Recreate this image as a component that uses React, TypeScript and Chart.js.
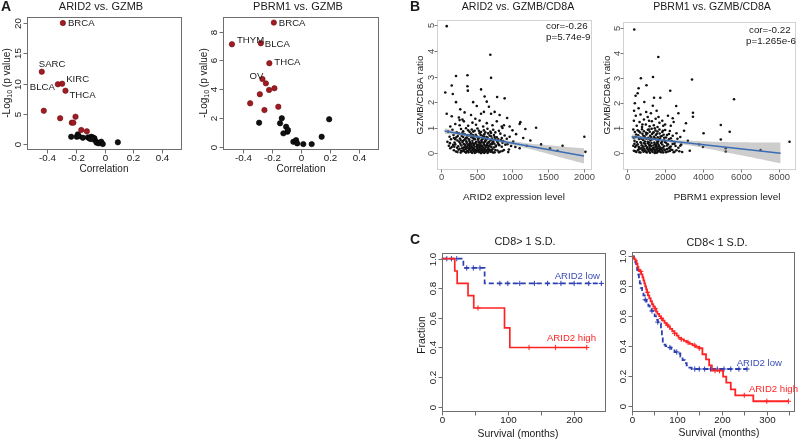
import React, { useEffect, useRef } from 'react';
import { Chart, registerables } from 'chart.js';
Chart.register(...registerables);

const FONT = '"Liberation Sans", Arial, Helvetica, sans-serif';

// ---------- Panel A data ----------
const A_CORR_TICKS = [-0.4, -0.2, 0, 0.2, 0.4];
const A_CORR_LABELS = ['-0.4', '-0.2', '0', '0.2', '0.4'];
const A1_Y_TICKS = [0, 5, 10, 15, 20];
const A2_Y_TICKS = [0, 2, 4, 6, 8];

const A1_RED: [number, number][] = [[-0.29, 20.0], [-0.437, 11.95], [-0.325, 9.87], [-0.295, 9.97], [-0.272, 8.81], [-0.423, 5.5], [-0.309, 4.25], [-0.202, 4.51], [-0.228, 3.53], [-0.217, 3.53], [-0.162, 2.31], [-0.123, 2.1]];
const A1_NAMES = ['BRCA', 'SARC', 'BLCA', 'KIRC', 'THCA'];
const A1_BLACK: [number, number][] = [[-0.232, 1.2], [-0.193, 1.2], [-0.186, 1.6], [-0.179, 1.3], [-0.151, 1.04], [-0.116, 1.1], [-0.105, 0.95], [-0.093, 1.2], [-0.081, 1.1], [-0.07, 0.95], [-0.1, 0.85], [-0.085, 0.8], [-0.058, 0.38], [-0.054, 0.22], [-0.04, 0.11], [-0.023, 0.38], [-0.012, 0.0], [0.093, 0.28]];

const A2_RED: [number, number][] = [[-0.478, 7.12], [-0.278, 7.19], [-0.188, 8.63], [-0.219, 5.8], [-0.267, 4.7], [-0.243, 4.4], [-0.285, 3.64], [-0.221, 3.94], [-0.184, 4.06], [-0.352, 3.01], [-0.253, 2.54], [-0.157, 2.77]];
const A2_NAMES = ['THYM', 'BLCA', 'BRCA', 'THCA', 'OV'];
const A2_BLACK: [number, number][] = [[-0.29, 1.66], [-0.133, 1.97], [-0.145, 1.62], [-0.103, 1.38], [-0.094, 1.03], [-0.122, 0.92], [-0.09, 1.15], [-0.053, 0.33], [-0.034, 0.45], [-0.026, 0.22], [0.016, 0.17], [0.074, 0.17], [0.143, 0.68], [0.195, 1.9]];

// ---------- Panel B data ----------
const B_Y_TICKS = [0, 1, 2, 3, 4, 5];
const B1_X_TICKS = [0, 500, 1000, 1500, 2000];
const B2_X_TICKS = [0, 2000, 4000, 6000, 8000];

const B1_POINTS: [number, number][] = [
  [80, 4.97], [690, 3.85], [700, 2.95], [210, 3.02], [370, 3.05], [370, 2.62], [375, 2.45], [150, 2.65], [60, 2.38], [165, 2.32],
  [560, 2.5], [610, 2.22], [785, 2.2], [890, 2.15], [640, 2.02], [670, 1.82], [750, 1.62], [80, 1.55], [150, 1.45], [270, 1.72],
  [925, 1.38], [1110, 1.22], [1100, 1.15], [1330, 1.0], [1180, 0.95], [2005, 0.65], [1525, 0.2], [1630, 0.1], [2020, 0.06], [210, 2.0],
  [450, 2.0], [500, 1.85], [330, 1.6], [420, 1.5], [560, 1.55], [600, 1.62], [480, 1.35], [260, 1.3], [700, 1.55], [820, 1.5],
  [880, 1.1], [960, 1.05], [1000, 0.9], [1050, 0.75], [1150, 0.6], [1250, 0.5], [1400, 0.35], [1200, 0.3], [1100, 0.2], [950, 0.15], [1700, 0.3],
  [180, 0.12], [230, 0.05], [260, 0.18], [300, 0.08], [320, 0.15], [350, 0.03], [380, 0.1], [400, 0.17], [420, 0.06], [445, 0.12],
  [470, 0.02], [490, 0.09], [510, 0.15], [530, 0.05], [550, 0.11], [570, 0.18], [590, 0.04], [610, 0.08], [630, 0.14], [650, 0.02],
  [670, 0.1], [700, 0.06], [720, 0.16], [750, 0.04], [790, 0.11], [830, 0.07], [880, 0.13], [940, 0.05], [130, 0.2], [610, 0.19],
  [560, 0.01], [460, 0.19], [360, 0.2], [280, 0.1], [690, 0.12],
  [110, 0.3], [150, 0.25], [200, 0.35], [240, 0.28], [270, 0.38], [310, 0.22], [340, 0.33], [370, 0.27], [395, 0.36], [430, 0.24],
  [455, 0.32], [480, 0.39], [500, 0.26], [525, 0.34], [545, 0.22], [575, 0.3], [600, 0.37], [625, 0.25], [645, 0.33], [680, 0.28],
  [710, 0.36], [740, 0.23], [770, 0.31], [800, 0.38], [850, 0.26], [900, 0.34], [980, 0.29], [1040, 0.25], [405, 0.29], [555, 0.27],
  [660, 0.21], [330, 0.25],
  [90, 0.45], [140, 0.55], [190, 0.42], [230, 0.5], [265, 0.58], [300, 0.44], [325, 0.52], [355, 0.47], [385, 0.56], [410, 0.41],
  [440, 0.49], [465, 0.57], [495, 0.45], [520, 0.53], [540, 0.42], [565, 0.5], [590, 0.58], [615, 0.46], [640, 0.55], [665, 0.43],
  [695, 0.51], [730, 0.47], [760, 0.56], [790, 0.44], [840, 0.52], [870, 0.48], [920, 0.57], [1010, 0.46], [450, 0.6], [350, 0.6],
  [120, 0.65], [175, 0.72], [215, 0.63], [250, 0.78], [290, 0.68], [330, 0.75], [360, 0.62], [390, 0.7], [420, 0.77], [455, 0.66],
  [485, 0.73], [515, 0.61], [540, 0.79], [580, 0.69], [605, 0.74], [635, 0.64], [660, 0.78], [700, 0.67], [740, 0.72], [780, 0.63],
  [830, 0.77], [890, 0.7], [960, 0.65],
  [100, 0.85], [160, 0.92], [220, 0.82], [280, 0.95], [310, 0.86], [350, 0.98], [400, 0.84], [430, 0.93], [470, 0.88], [510, 0.97],
  [560, 0.83], [600, 0.9], [650, 0.96], [690, 0.85], [730, 0.92], [810, 0.88], [860, 0.99],
  [130, 1.05], [200, 1.15], [260, 1.1], [320, 1.25], [380, 1.08], [440, 1.2], [490, 1.12], [540, 1.28], [590, 1.05], [640, 1.18],
  [720, 1.1], [780, 1.25], [850, 1.05], [300, 1.32], [250, 1.4],
  [210, 0.07], [245, 0.14], [275, 0.03], [295, 0.2], [315, 0.11], [335, 0.06], [345, 0.17], [365, 0.09], [385, 0.04], [395, 0.13],
  [415, 0.19], [425, 0.1], [435, 0.02], [450, 0.16], [465, 0.08], [475, 0.13], [485, 0.04], [500, 0.19], [515, 0.07], [520, 0.12],
  [535, 0.16], [545, 0.09], [555, 0.03], [565, 0.14], [580, 0.08], [585, 0.15], [595, 0.11], [605, 0.02], [615, 0.13], [620, 0.06],
  [640, 0.09], [655, 0.16], [665, 0.05], [680, 0.15], [710, 0.1], [730, 0.03], [760, 0.13], [810, 0.04], [860, 0.09],
  [225, 0.22], [255, 0.45], [285, 0.31], [305, 0.48], [320, 0.36], [345, 0.24], [360, 0.41], [375, 0.33], [390, 0.22], [400, 0.46],
  [415, 0.35], [425, 0.28], [440, 0.4], [450, 0.21], [460, 0.37], [470, 0.27], [490, 0.43], [505, 0.33], [515, 0.23], [530, 0.45],
  [535, 0.29], [550, 0.38], [560, 0.31], [570, 0.44], [585, 0.24], [595, 0.41], [610, 0.32], [620, 0.48], [630, 0.28], [650, 0.4],
  [660, 0.3], [675, 0.45], [690, 0.35], [705, 0.25], [720, 0.42], [745, 0.38], [765, 0.27], [785, 0.48], [815, 0.32], [860, 0.41],
  [930, 0.36], [170, 0.33], [185, 0.26], [125, 0.4],
  [200, 0.55], [235, 0.68], [275, 0.52], [310, 0.64], [340, 0.56], [370, 0.71], [395, 0.53], [425, 0.63], [445, 0.72], [475, 0.55],
  [500, 0.67], [530, 0.6], [555, 0.72], [575, 0.55], [600, 0.65], [625, 0.52], [650, 0.62], [680, 0.7], [715, 0.58], [750, 0.64],
  [800, 0.55], [850, 0.6], [450, 0.85], [530, 0.88], [620, 0.82], [380, 0.9], [300, 0.8], [700, 0.8], [180, 0.6], [760, 0.82],
];
const B1_FIT: [number, number][] = [[50, 0.875], [2000, -0.1]];
const B1_BAND_UPPER: [number, number][] = [[50, 0.985], [300, 0.82], [600, 0.65], [900, 0.52], [1200, 0.4], [1500, 0.32], [1800, 0.24], [2000, 0.2]];
const B1_BAND_LOWER: [number, number][] = [[50, 0.765], [300, 0.68], [600, 0.55], [900, 0.38], [1200, 0.2], [1500, -0.02], [1800, -0.25], [2000, -0.4]];

const B2_POINTS: [number, number][] = [
  [370, 4.95], [1640, 3.85], [720, 3.0], [1360, 3.05], [3420, 2.95], [1015, 2.72], [600, 2.6], [550, 2.4], [440, 2.3], [1415, 2.22],
  [1745, 2.22], [2270, 2.5], [2585, 1.89], [5640, 2.16], [3470, 1.62], [3470, 1.46], [4940, 1.13], [5410, 0.86], [4940, 0.55], [5200, 0.2],
  [5200, 0.07], [7040, 0.13], [8570, 0.46], [4030, 0.8], [3800, 0.35], [3000, 0.9], [2800, 0.3], [3300, 0.1], [3100, 1.2], [2700, 1.6],
  [900, 2.05], [400, 2.0], [3200, 0.5], [4000, 0.25], [2900, 0.05],
  [350, 0.1], [480, 0.05], [600, 0.15], [700, 0.03], [820, 0.12], [900, 0.18], [1000, 0.06], [1100, 0.14], [1200, 0.02], [1300, 0.1],
  [1400, 0.17], [1500, 0.05], [1600, 0.12], [1700, 0.08], [1800, 0.16], [1900, 0.03], [2000, 0.11], [2150, 0.07], [2300, 0.15], [2450, 0.04],
  [2600, 0.12], [2750, 0.08], [1050, 0.19], [1450, 0.01], [1750, 0.19], [650, 0.2], [1250, 0.16], [2200, 0.2],
  [320, 0.3], [420, 0.25], [550, 0.36], [650, 0.22], [760, 0.32], [860, 0.27], [950, 0.38], [1050, 0.24], [1150, 0.34], [1250, 0.29],
  [1350, 0.21], [1450, 0.37], [1550, 0.26], [1650, 0.33], [1750, 0.23], [1850, 0.35], [1950, 0.28], [2100, 0.31], [2250, 0.25], [2400, 0.37],
  [2550, 0.29], [2700, 0.22], [1100, 0.4], [1600, 0.4],
  [380, 0.5], [500, 0.45], [620, 0.57], [730, 0.42], [840, 0.53], [930, 0.47], [1030, 0.58], [1130, 0.44], [1230, 0.51], [1330, 0.56],
  [1430, 0.43], [1530, 0.55], [1630, 0.48], [1730, 0.59], [1830, 0.46], [1950, 0.52], [2050, 0.42], [2200, 0.56], [2350, 0.49], [2500, 0.45], [2650, 0.58],
  [450, 0.65], [580, 0.72], [700, 0.63], [800, 0.78], [910, 0.68], [1010, 0.75], [1110, 0.62], [1210, 0.7], [1310, 0.77], [1410, 0.66],
  [1510, 0.73], [1610, 0.64], [1710, 0.79], [1820, 0.69], [1920, 0.74], [2050, 0.63], [2200, 0.77], [2400, 0.7],
  [400, 0.85], [550, 0.92], [680, 0.83], [780, 0.96], [880, 0.88], [990, 0.82], [1090, 0.94], [1190, 0.86], [1290, 0.98], [1390, 0.84],
  [1490, 0.91], [1600, 0.87], [1700, 0.95], [1850, 0.85], [2000, 0.93], [2250, 0.89],
  [500, 1.1], [650, 1.25], [780, 1.05], [880, 1.35], [980, 1.15], [1080, 1.45], [1180, 1.08], [1250, 1.6], [1300, 1.28], [1400, 1.12],
  [1500, 1.38], [1600, 1.05], [1700, 1.22], [1850, 1.3], [2000, 1.15], [2150, 1.5], [2300, 1.1], [2450, 1.25], [700, 1.55], [1000, 1.65], [1550, 1.7],
  [420, 0.08], [560, 0.12], [640, 0.04], [760, 0.16], [860, 0.06], [950, 0.11], [1030, 0.03], [1150, 0.08], [1230, 0.13], [1340, 0.05],
  [1380, 0.15], [1470, 0.09], [1540, 0.16], [1560, 0.02], [1640, 0.07], [1720, 0.14], [1780, 0.04], [1860, 0.1], [1960, 0.15], [2050, 0.04],
  [2100, 0.17], [2250, 0.09], [2380, 0.13], [2500, 0.06], [1180, 0.18], [900, 0.1], [1620, 0.2],
  [380, 0.38], [480, 0.31], [600, 0.26], [700, 0.44], [800, 0.23], [880, 0.4], [980, 0.3], [1080, 0.46], [1180, 0.26], [1280, 0.41],
  [1380, 0.31], [1480, 0.24], [1580, 0.44], [1680, 0.29], [1780, 0.41], [1880, 0.22], [1990, 0.45], [2150, 0.36], [2300, 0.27], [2500, 0.38],
  [2850, 0.35], [1200, 0.34], [1520, 0.33],
  [340, 0.62], [470, 0.75], [620, 0.88], [740, 0.58], [850, 0.7], [960, 0.6], [1060, 0.8], [1160, 0.57], [1260, 0.64], [1360, 0.82],
  [1460, 0.6], [1560, 0.78], [1660, 0.55], [1760, 0.67], [1880, 0.9], [2100, 0.73], [2300, 0.6], [2600, 0.8], [2800, 0.65], [1950, 0.62],
  [1150, 0.95], [1450, 1.0],
  [350, 1.3], [450, 1.5], [600, 1.8], [800, 1.15], [1150, 1.3], [1350, 1.9], [1650, 1.45], [1900, 1.1], [2400, 1.4], [320, 0.95], [360, 1.7],
];
const B2_FIT: [number, number][] = [[230, 0.66], [8100, 0.0]];
const B2_BAND_UPPER: [number, number][] = [[230, 0.76], [1000, 0.66], [2000, 0.56], [3000, 0.51], [4000, 0.48], [5000, 0.45], [6000, 0.44], [7000, 0.43], [8100, 0.43]];
const B2_BAND_LOWER: [number, number][] = [[230, 0.56], [1000, 0.54], [2000, 0.46], [3000, 0.35], [4000, 0.22], [5000, 0.07], [6000, -0.08], [7000, -0.23], [8100, -0.41]];

// ---------- Panel C data (Kaplan-Meier steps: [months, fraction]) ----------
const C_Y_TICKS = [0, 0.2, 0.4, 0.6, 0.8, 1.0];
const C_Y_LABELS = ['0', '0.2', '0.4', '0.6', '0.8', '1.0'];
const C1_X_TICKS = [0, 50, 100, 150, 200];
const C1_X_LABELS = ['0', '', '100', '', '200'];
const C2_X_TICKS = [0, 50, 100, 150, 200, 250, 300, 350];
const C2_X_LABELS = ['0', '', '100', '', '200', '', '300', ''];

const C1_HIGH: [number, number][] = [[0, 1], [20, 0.917], [23.6, 0.833], [40, 0.75], [48.6, 0.667], [95, 0.533], [103, 0.4], [219, 0.4]];
const C1_LOW: [number, number][] = [[0, 1], [33, 0.9375], [65, 0.833], [241, 0.833]];
const C1_HIGH_CENSOR = [55, 132, 172, 219];
const C1_LOW_CENSOR = [8, 15, 23, 38, 48, 58, 88, 100, 118, 140, 160, 180, 200, 222, 241];

const C2_HIGH: [number, number][] = [
  [0, 1], [3, 0.99], [6, 0.98], [9, 0.97], [11, 0.95], [13, 0.93], [15, 0.91], [18, 0.9], [21, 0.88], [24, 0.86],
  [26, 0.84], [28, 0.82], [30, 0.8], [32, 0.78], [34, 0.76], [36, 0.74], [39, 0.72], [42, 0.7], [45, 0.68], [48, 0.665],
  [51, 0.65], [54, 0.63], [57, 0.615], [61, 0.6], [65, 0.585], [69, 0.57], [73, 0.555], [77, 0.54], [81, 0.53], [85, 0.515],
  [90, 0.5], [95, 0.485], [100, 0.47], [104, 0.455], [110, 0.445], [116, 0.435], [122, 0.425], [128, 0.415], [135, 0.405], [142, 0.395],
  [150, 0.385], [157, 0.345], [165, 0.31], [172, 0.27], [178, 0.235], [203, 0.195], [210, 0.155], [220, 0.11], [230, 0.07], [270, 0.03], [348, 0.03],
];
const C2_LOW: [number, number][] = [
  [0, 1], [5, 0.98], [8, 0.96], [10, 0.94], [12, 0.91], [14, 0.88], [16, 0.85], [18, 0.82], [20, 0.79], [23, 0.76],
  [26, 0.74], [29, 0.71], [33, 0.69], [37, 0.67], [40, 0.65], [44, 0.635], [48, 0.62], [51, 0.6], [54, 0.575], [58, 0.56],
  [62, 0.55], [65, 0.5], [67, 0.46], [69, 0.41], [75, 0.4], [80, 0.39], [88, 0.37], [95, 0.36], [102, 0.35], [108, 0.33],
  [113, 0.305], [118, 0.285], [122, 0.27], [128, 0.255], [133, 0.246], [256, 0.246],
];
const C2_HIGH_CENSOR = [20, 35, 52, 66, 80, 95, 110, 125, 140, 150, 185, 195, 250, 300, 348];
const C2_LOW_CENSOR = [30, 45, 58, 85, 100, 140, 150, 162, 175, 190, 205, 220, 238, 256];

// ---------- styles ----------
const RED_DOT = '#a11c22';
const KM_RED = '#ff2424';
const KM_BLUE = '#2c3fb2';
const FIT_BLUE = '#3b6db4';

type Part = { t: string; sub?: boolean };
type Txt = {
  text?: string; parts?: Part[]; x?: number; y?: number; at?: [number, number]; dx?: number; dy?: number;
  size?: number; color?: string; align?: 'left' | 'center' | 'right'; rot?: boolean; bold?: boolean;
};
type Deco = {
  style: 'r' | 'gg';
  xTicks: number[]; xLabels: string[]; yTicks: number[]; yLabels: string[];
  texts: Txt[];
};

function drawText(ctx: CanvasRenderingContext2D, x: number, y: number, t: Txt) {
  const size = t.size ?? 10;
  const parts: Part[] = t.parts ?? [{ t: t.text ?? '' }];
  const fontFor = (p: Part) => `${t.bold ? 'bold ' : ''}${p.sub ? size * 0.7 : size}px ${FONT}`;
  let total = 0;
  const widths = parts.map((p) => { ctx.font = fontFor(p); const w = ctx.measureText(p.t).width; total += w; return w; });
  ctx.save();
  ctx.translate(x, y);
  if (t.rot) ctx.rotate(-Math.PI / 2);
  ctx.fillStyle = t.color ?? '#1a1a1a';
  ctx.textBaseline = 'middle';
  ctx.textAlign = 'left';
  let sx = t.align === 'left' ? 0 : t.align === 'right' ? -total : -total / 2;
  parts.forEach((p, i) => {
    ctx.font = fontFor(p);
    ctx.fillText(p.t, sx, p.sub ? size * 0.3 : 0);
    sx += widths[i];
  });
  ctx.restore();
}

function makeDeco(deco: Deco) {
  return {
    id: 'deco',
    afterDraw(chart: any) {
      const { ctx, chartArea: a, scales } = chart;
      const xs = scales.x, ys = scales.y;
      const r = deco.style === 'r';
      ctx.save();
      const L = Math.round(a.left) + 0.5, T = Math.round(a.top) + 0.5;
      const R = Math.round(a.right) - 0.5, B = Math.round(a.bottom) - 0.5;
      ctx.strokeStyle = r ? '#6e6e6e' : '#d2d2d2';
      ctx.lineWidth = 1;
      ctx.strokeRect(L, T, R - L, B - T);
      const tickLen = r ? 4 : 3;
      ctx.strokeStyle = r ? '#6e6e6e' : '#7a7a7a';
      const labColor = r ? '#1a1a1a' : '#4a4a4a';
      const labSize = r ? 9.8 : 9.4;
      deco.xTicks.forEach((v, i) => {
        const px = Math.round(xs.getPixelForValue(v)) + 0.5;
        ctx.beginPath(); ctx.moveTo(px, B); ctx.lineTo(px, B + tickLen); ctx.stroke();
        const lab = deco.xLabels[i];
        if (lab) drawText(ctx, px, B + (r ? 9 : 8), { text: lab, size: labSize, color: labColor });
      });
      deco.yTicks.forEach((v, i) => {
        const py = Math.round(ys.getPixelForValue(v)) + 0.5;
        ctx.beginPath(); ctx.moveTo(L, py); ctx.lineTo(L - tickLen, py); ctx.stroke();
        const lab = deco.yLabels[i];
        if (lab) drawText(ctx, L - (r ? 9.5 : 6.5), py, { text: lab, size: labSize, color: labColor, rot: true });
      });
      deco.texts.forEach((t) => {
        let x = t.x ?? 0, y = t.y ?? 0;
        if (t.at) { x = xs.getPixelForValue(t.at[0]) + (t.dx ?? 0); y = ys.getPixelForValue(t.at[1]) + (t.dy ?? 0); }
        drawText(ctx, x, y, t);
      });
      ctx.restore();
    },
  };
}

type Box = { l: number; t: number; r: number; b: number };
const pts = (arr: [number, number][]) => arr.map(([x, y]) => ({ x, y }));
const stepValue = (steps: [number, number][], t: number) => {
  let v = steps[0][1];
  for (const [tt, s] of steps) if (tt <= t) v = s;
  return v;
};

function makeConfig(box: Box, xr: [number, number], yr: [number, number], datasets: any[], deco: Deco) {
  return {
    type: 'scatter',
    data: { datasets },
    options: {
      responsive: false,
      animation: false,
      events: [],
      devicePixelRatio: 1,
      layout: { padding: { left: box.l, top: box.t, right: 800 - box.r, bottom: 440 - box.b } },
      scales: {
        x: { type: 'linear', display: false, min: xr[0], max: xr[1] },
        y: { type: 'linear', display: false, min: yr[0], max: yr[1] },
      },
      plugins: { legend: { display: false }, tooltip: { enabled: false } },
    },
    plugins: [makeDeco(deco)],
  };
}

const dotSet = (data: [number, number][], color: string, border: string) => ({
  data: pts(data), backgroundColor: color, borderColor: border, borderWidth: 0.6, pointRadius: 2.7,
});

const log10Label: Part[] = [{ t: '-Log' }, { t: '10', sub: true }, { t: ' (p value)' }];

// ---------- Panel configs ----------
function configA1() {
  const lay: [number, number, 'left' | 'right'][] = [[5, 0, 'left'], [-3, -7, 'left'], [-3, 3, 'right'], [4, -4, 'left'], [4, 5, 'left']];
  return makeConfig({ l: 27, t: 17, r: 182, b: 150 }, [-0.54, 0.54], [-0.99, 21],
    [dotSet(A1_RED, RED_DOT, '#6a0c10'), dotSet(A1_BLACK, '#111', '#000')],
    {
      style: 'r', xTicks: A_CORR_TICKS, xLabels: A_CORR_LABELS, yTicks: A1_Y_TICKS, yLabels: A1_Y_TICKS.map(String),
      texts: [
        { text: 'ARID2 vs. GZMB', x: 101, y: 7, size: 11 },
        { text: 'Correlation', x: 104, y: 169, size: 10 },
        { parts: log10Label, x: 7, y: 83, size: 10, rot: true },
        { text: 'A', x: 6, y: 7, size: 14, bold: true },
        ...A1_NAMES.map((n, i) => ({ text: n, at: A1_RED[i], dx: lay[i][0], dy: lay[i][1], align: lay[i][2], size: 9.6 })),
      ],
    });
}

function configA2() {
  const lay: [number, number, 'left' | 'right'][] = [[5, -4, 'left'], [4, 1, 'left'], [5, 1, 'left'], [5, -1, 'left'], [1, -3, 'right']];
  return makeConfig({ l: 223, t: 17, r: 379, b: 150 }, [-0.54, 0.54], [-0.24, 9.02],
    [dotSet(A2_RED, RED_DOT, '#6a0c10'), dotSet(A2_BLACK, '#111', '#000')],
    {
      style: 'r', xTicks: A_CORR_TICKS, xLabels: A_CORR_LABELS, yTicks: A2_Y_TICKS, yLabels: A2_Y_TICKS.map(String),
      texts: [
        { text: 'PBRM1 vs. GZMB', x: 298, y: 7, size: 11 },
        { text: 'Correlation', x: 301, y: 169, size: 10 },
        { parts: log10Label, x: 204, y: 83, size: 10, rot: true },
        ...A2_NAMES.map((n, i) => ({ text: n, at: A2_RED[i], dx: lay[i][0], dy: lay[i][1], align: lay[i][2], size: 9.6 })),
      ],
    });
}

function bDatasets(points: [number, number][], fit: [number, number][], up: [number, number][], lo: [number, number][]) {
  return [
    { type: 'line', data: pts(fit), borderColor: FIT_BLUE, borderWidth: 1.6, pointRadius: 0, fill: false, order: 1 },
    { type: 'line', data: pts(up), borderWidth: 0, borderColor: 'rgba(0,0,0,0)', pointRadius: 0, fill: false, tension: 0.4, order: 2 },
    { type: 'line', data: pts(lo), borderWidth: 0, borderColor: 'rgba(0,0,0,0)', pointRadius: 0, fill: '-1', tension: 0.4, backgroundColor: 'rgba(135,135,135,0.42)', order: 2 },
    { data: pts(points), backgroundColor: '#111', borderWidth: 0, pointRadius: 1.3, order: 3 },
  ];
}

function configB1() {
  return makeConfig({ l: 437, t: 19.5, r: 592, b: 170 }, [-56, 2112], [-0.65, 5.23],
    bDatasets(B1_POINTS, B1_FIT, B1_BAND_UPPER, B1_BAND_LOWER),
    {
      style: 'gg', xTicks: B1_X_TICKS, xLabels: B1_X_TICKS.map(String), yTicks: B_Y_TICKS, yLabels: B_Y_TICKS.map(String),
      texts: [
        { text: 'ARID2 vs. GZMB/CD8A', x: 518, y: 7, size: 10.6 },
        { text: 'ARID2 expression level', x: 514, y: 197, size: 9.8 },
        { text: 'GZMB/CD8A ratio', x: 420, y: 95, size: 9.8, rot: true },
        { text: 'B', x: 415, y: 7, size: 14, bold: true },
        { text: 'cor=-0.26', x: 546, y: 26, size: 9.8, align: 'left' },
        { text: 'p=5.74e-9', x: 546, y: 37, size: 9.8, align: 'left' },
      ],
    });
}

function configB2() {
  return makeConfig({ l: 623, t: 21.5, r: 798, b: 170 }, [-225, 8912], [-0.67, 5.27],
    bDatasets(B2_POINTS, B2_FIT, B2_BAND_UPPER, B2_BAND_LOWER),
    {
      style: 'gg', xTicks: B2_X_TICKS, xLabels: B2_X_TICKS.map(String), yTicks: B_Y_TICKS, yLabels: B_Y_TICKS.map(String),
      texts: [
        { text: 'PBRM1 vs. GZMB/CD8A', x: 712, y: 7, size: 10.6 },
        { text: 'PBRM1 expression level', x: 727, y: 197, size: 9.8 },
        { text: 'GZMB/CD8A ratio', x: 607, y: 95, size: 9.8, rot: true },
        { text: 'cor=-0.22', x: 749, y: 30, size: 9.8, align: 'left' },
        { text: 'p=1.265e-6', x: 746, y: 41, size: 9.8, align: 'left' },
      ],
    });
}

function kmDatasets(high: [number, number][], low: [number, number][], hc: number[], lc: number[], lw: number) {
  return [
    { type: 'line', data: pts(high), stepped: 'before', borderColor: KM_RED, borderWidth: lw, pointRadius: 0, fill: false },
    { data: hc.map((t) => ({ x: t, y: stepValue(high, t) })), pointStyle: 'cross', pointRadius: 2.6, borderColor: KM_RED, borderWidth: 1, backgroundColor: KM_RED },
    { type: 'line', data: pts(low), stepped: 'before', borderColor: KM_BLUE, borderDash: [5, 3], borderWidth: lw, pointRadius: 0, fill: false },
    { data: lc.map((t) => ({ x: t, y: stepValue(low, t) })), pointStyle: 'cross', pointRadius: 2.6, borderColor: KM_BLUE, borderWidth: 1, backgroundColor: KM_BLUE },
  ];
}

function configC1() {
  return makeConfig({ l: 441.5, t: 252.5, r: 606, b: 412 }, [0, 248], [-0.036, 1.042],
    kmDatasets(C1_HIGH, C1_LOW, C1_HIGH_CENSOR, C1_LOW_CENSOR, 1.7),
    {
      style: 'r', xTicks: C1_X_TICKS, xLabels: C1_X_LABELS, yTicks: C_Y_TICKS, yLabels: C_Y_LABELS,
      texts: [
        { text: 'CD8> 1 S.D.', x: 525, y: 242, size: 10.8 },
        { text: 'Survival (months)', x: 518, y: 434, size: 10.4 },
        { text: 'Fraction', x: 422, y: 335, size: 10.4, rot: true },
        { text: 'C', x: 415, y: 240, size: 14, bold: true },
        { text: 'ARID2 low', x: 600, y: 276, size: 9.6, align: 'right', color: '#3a4db8' },
        { text: 'ARID2 high', x: 596, y: 338, size: 9.6, align: 'right', color: KM_RED },
      ],
    });
}

function configC2() {
  return makeConfig({ l: 631.7, t: 252, r: 796.7, b: 411.7 }, [0, 362.6], [-0.04, 1.03],
    kmDatasets(C2_HIGH, C2_LOW, C2_HIGH_CENSOR, C2_LOW_CENSOR, 1.8),
    {
      style: 'r', xTicks: C2_X_TICKS, xLabels: C2_X_LABELS, yTicks: C_Y_TICKS, yLabels: C_Y_LABELS,
      texts: [
        { text: 'CD8< 1 S.D.', x: 717, y: 243, size: 10.8 },
        { text: 'Survival (months)', x: 719, y: 433, size: 10.4 },
        { text: 'ARID2 low', x: 782, y: 363, size: 9.6, align: 'right', color: '#3a4db8' },
        { text: 'ARID2 high', x: 798, y: 389, size: 9.6, align: 'right', color: KM_RED },
      ],
    });
}

function Panel({ make }: { make: () => any }) {
  const ref = useRef<HTMLCanvasElement>(null);
  useEffect(() => {
    const chart = new Chart(ref.current as HTMLCanvasElement, make());
    return () => chart.destroy();
  }, [make]);
  return (
    <canvas ref={ref} width={800} height={440}
      style={{ position: 'absolute', left: 0, top: 0, width: 800, height: 440 }} />
  );
}

const MAKERS = [configA1, configA2, configB1, configB2, configC1, configC2];

export default function App() {
  return (
    <div style={{ position: 'fixed', left: 0, top: 0, width: 800, height: 440, background: '#fff', overflow: 'hidden' }}>
      {MAKERS.map((m, i) => <Panel key={i} make={m} />)}
    </div>
  );
}
